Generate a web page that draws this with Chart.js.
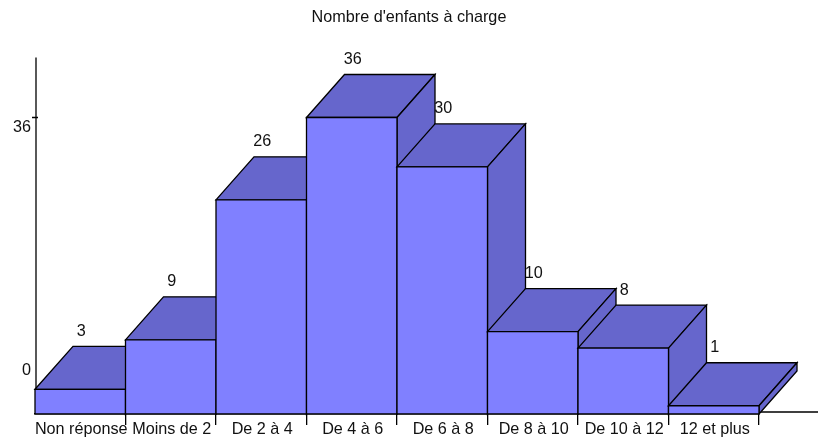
<!DOCTYPE html>
<html><head><meta charset="utf-8">
<style>html,body{margin:0;padding:0;background:#fff}canvas{display:block}</style>
<script src="https://cdn.jsdelivr.net/npm/chart.js@4/dist/chart.umd.min.js"></script>
</head><body><canvas id="c" width="818" height="441"></canvas>
<script>
const titleText = "Nombre d'enfants à charge";
const categories = ["Non réponse","Moins de 2","De 2 à 4","De 4 à 6","De 6 à 8","De 8 à 10","De 10 à 12","12 et plus"];
const counts = [3,9,26,36,30,10,8,1];
const yTickValues = [0,36];
const yAxisMax = 43.29;
const FONT = "'Liberation Sans', Arial, sans-serif";
const FS = 16.2;
const DX = 38, DY = 43;
const FRONT = '#8080ff', DEPTH = '#6666cc';
const LW = 1.3;

function poly(ctx, pts, fill){
  ctx.beginPath();
  pts.forEach((p,i)=> i ? ctx.lineTo(p[0],p[1]) : ctx.moveTo(p[0],p[1]));
  ctx.closePath();
  ctx.fillStyle = fill; ctx.fill();
  ctx.strokeStyle = '#000'; ctx.lineWidth = LW; ctx.stroke();
}
const depthPlugin = {
  id:'depth3d',
  beforeDraw(chart){
    chart.titleBlock.left = 0;
    chart.titleBlock.right = chart.width;
  },
  afterDraw(chart){
    const ctx = chart.ctx, meta = chart.getDatasetMeta(0);
    const y = chart.scales.y, x = chart.scales.x;
    ctx.save();
    const base = y.getPixelForValue(0);
    ctx.strokeStyle='#000'; ctx.lineWidth=LW;
    ctx.beginPath();
    ctx.moveTo(36, chart.chartArea.top); ctx.lineTo(36, base - 24);
    ctx.moveTo(x.right, base-2); ctx.lineTo(818, base-2);
    ctx.moveTo(32, y.getPixelForValue(36)); ctx.lineTo(38, y.getPixelForValue(36));
    ctx.stroke();
    // painter's order: left to right
    meta.data.forEach(bar=>{
      const w = bar.width, l = bar.x - w/2, r = bar.x + w/2, t = bar.y, b = bar.base;
      poly(ctx,[[l,t],[l+DX,t-DY],[r+DX,t-DY],[r,t]],DEPTH);
      poly(ctx,[[r,t],[r+DX,t-DY],[r+DX,b-DY],[r,b]],DEPTH);
      poly(ctx,[[l,t],[r,t],[r,b],[l,b]],FRONT);
    });
    // value labels
    ctx.fillStyle='#111'; ctx.font=FS+'px '+FONT; ctx.textAlign='center'; ctx.textBaseline='middle';
    meta.data.forEach((bar,i)=>{
      ctx.fillText(String(counts[i]), bar.x+1, bar.y-DY-15);
    });
    // y tick labels
    ctx.textAlign='right';
    yTickValues.forEach(v=>{
      const py = y.getPixelForValue(v);
      ctx.fillText(String(v), 31, v===0 ? py-DY : py+10);
    });
    ctx.restore();
  }
};
new Chart(document.getElementById('c'),{
  type:'bar',
  data:{labels:categories,datasets:[{data:counts,backgroundColor:'rgba(0,0,0,0)',borderWidth:0,categoryPercentage:1,barPercentage:1}]},
  options:{
    responsive:false,animation:false,
    layout:{padding:{left:35,right:59,top:0,bottom:0}},
    plugins:{legend:{display:false},tooltip:{enabled:false},
      title:{display:true,text:titleText,color:'#111',font:{family:FONT,size:FS,weight:'normal'},padding:{top:8,bottom:30}}},
    scales:{
      x:{offset:true,
        grid:{offset:true,drawOnChartArea:false,drawTicks:true,tickLength:11,lineWidth:LW,
          color:c=>c.index===0?'rgba(0,0,0,0)':'#000'},
        border:{color:'#000',width:LW},
        ticks:{autoSkip:false,maxRotation:0,padding:-5,labelOffset:1,color:'#111',font:{family:FONT,size:FS}},
        afterFit(s){s.height=27;}},
      y:{display:false,min:0,max:yAxisMax}
    }
  },
  plugins:[depthPlugin]
});
</script></body></html>
